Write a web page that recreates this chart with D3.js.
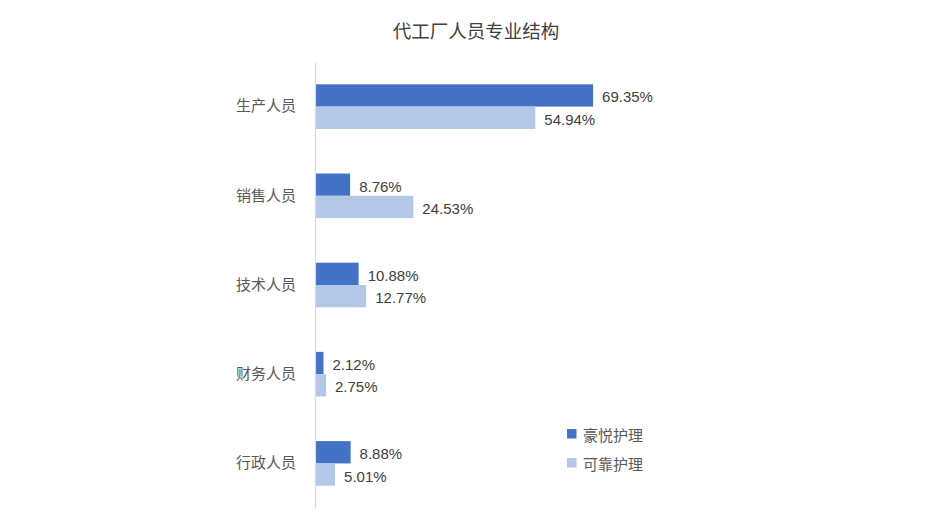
<!DOCTYPE html>
<html>
<head>
<meta charset="utf-8">
<script src="https://cdn.jsdelivr.net/npm/d3@7"></script>
<style>
  html, body { margin: 0; padding: 0; background: #ffffff; }
  svg { display: block; font-family: "Liberation Sans", Arial, "Noto Sans CJK SC", sans-serif; }
</style>
</head>
<body>
<svg id="chart" width="927" height="522"></svg>
<script>
const title = "代工厂人员专业结构";
const categories = ["生产人员", "销售人员", "技术人员", "财务人员", "行政人员"];
const seriesNames = ["豪悦护理", "可靠护理"];
const haoyue = [69.35, 8.76, 10.88, 2.12, 8.88];
const kekao = [54.94, 24.53, 12.77, 2.75, 5.01];
const colors = ["#4472C4", "#B4C7E7"];

const svg = d3.select("#chart");
const series = [haoyue, kekao];

const y = d3.scaleBand().domain(categories).range([62, 508]).paddingInner(0.5).paddingOuter(0.25);
const ySub = d3.scaleBand().domain(d3.range(seriesNames.length)).range([0, y.bandwidth()]);
const x = d3.scaleLinear().domain([0, 100]).range([315, 716]);

svg.append("text")
  .attr("x", 476).attr("y", 31)
  .attr("text-anchor", "middle").attr("dominant-baseline", "central")
  .attr("font-size", 18.5).attr("fill", "#404040")
  .text(title);

const rows = [];
categories.forEach((c, i) => series.forEach((s, j) => rows.push({c, j, v: s[i]})));

svg.selectAll("rect.bar").data(rows).enter().append("rect")
  .attr("class", "bar")
  .attr("x", x(0))
  .attr("y", d => y(d.c) + ySub(d.j))
  .attr("width", d => x(d.v) - x(0))
  .attr("height", ySub.bandwidth())
  .attr("fill", d => colors[d.j]);

svg.selectAll("text.val").data(rows).enter().append("text")
  .attr("class", "val")
  .attr("x", d => x(d.v) + 9)
  .attr("y", d => y(d.c) + ySub(d.j) + ySub.bandwidth() / 2 + 1.5)
  .attr("dominant-baseline", "central")
  .attr("font-size", 15).attr("fill", "#404040")
  .text(d => d.v.toFixed(2) + "%");

// axis
const yAxis = d3.axisLeft(y).tickSize(0).tickPadding(19);
const g = svg.append("g").attr("transform", `translate(${x(0)},0)`).call(yAxis);
g.select(".domain").attr("stroke", "#d9d9d9").attr("stroke-width", 1.2);
g.selectAll(".tick text").attr("font-size", 15).attr("fill", "#595959")
  .attr("font-family", '"Noto Sans CJK SC", sans-serif');

// legend
const leg = svg.append("g");
seriesNames.forEach((n, j) => {
  const cy = 434 + j * 29;
  leg.append("rect").attr("x", 567).attr("y", cy - 5).attr("width", 9.5).attr("height", 9.5).attr("fill", colors[j]);
  leg.append("text").attr("x", 583).attr("y", cy)
    .attr("dominant-baseline", "central").attr("font-size", 15).attr("fill", "#595959")
    .attr("font-family", '"Noto Sans CJK SC", sans-serif')
    .text(n);
});
</script>
</body>
</html>
